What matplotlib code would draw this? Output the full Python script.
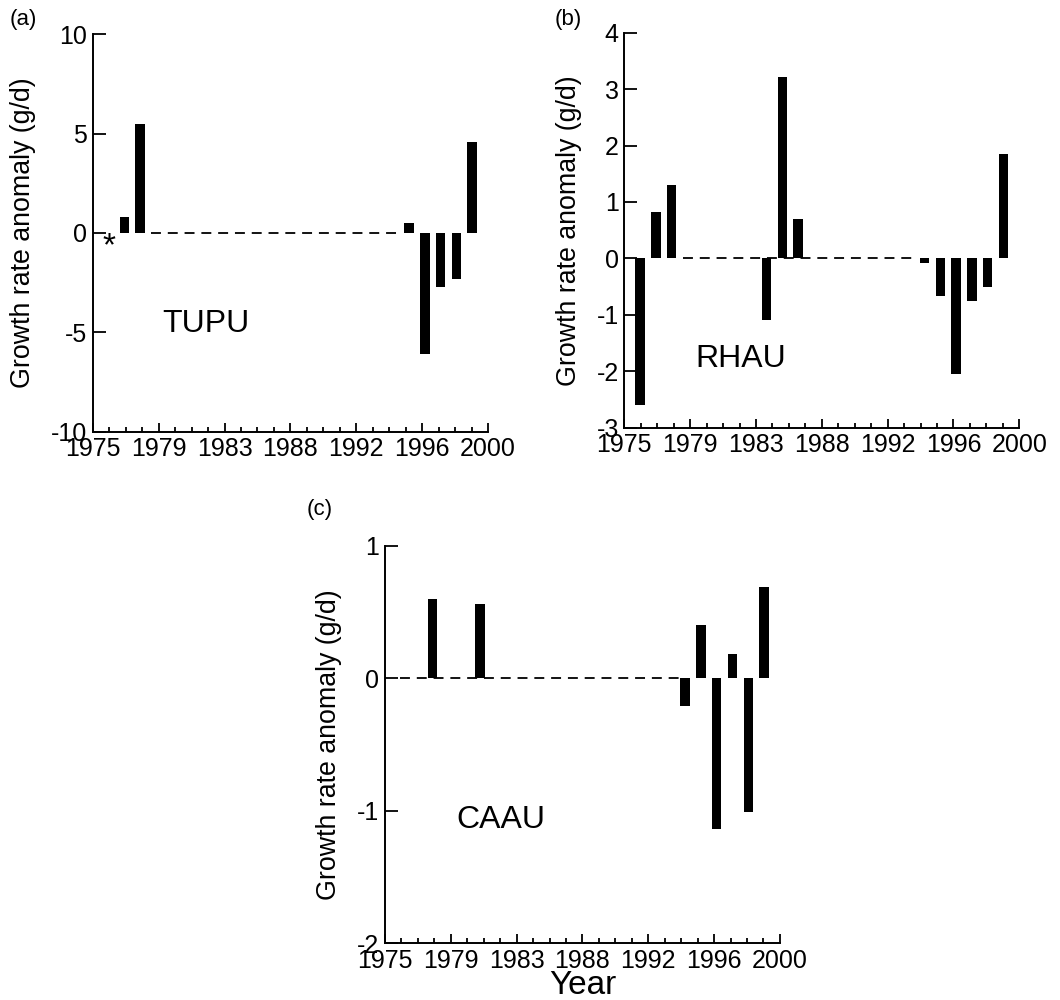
import numpy as np
import matplotlib
matplotlib.use("Agg")
import matplotlib.pyplot as plt

plt.rcParams['font.family'] = ['Liberation Sans', 'DejaVu Sans']

# growth rate anomalies (g/d) by year
tupu_years = [1977, 1978, 1995, 1996, 1997, 1998, 1999]
tupu_vals = [0.8, 5.5, 0.5, -6.1, -2.7, -2.3, 4.6]

rhau_years = [1976, 1977, 1978, 1984, 1985, 1986, 1994, 1995, 1996, 1997, 1998, 1999]
rhau_vals = [-2.6, 0.83, 1.3, -1.1, 3.22, 0.7, -0.09, -0.66, -2.05, -0.75, -0.51, 1.85]

caau_years = [1978, 1981, 1994, 1995, 1996, 1997, 1998, 1999]
caau_vals = [0.6, 0.56, -0.21, 0.4, -1.14, 0.18, -1.01, 0.69]

# axis 1975-2000 split into 24 tick intervals, labelled every 4th
x_major = np.linspace(1975, 2000, 7)
x_minor = np.linspace(1975, 2000, 25)
x_labels = ['1975', '1979', '1983', '1988', '1992', '1996', '2000']

tupu_yticks = [-10, -5, 0, 5, 10]
rhau_yticks = [-3, -2, -1, 0, 1, 2, 3, 4]
caau_yticks = [-2, -1, 0, 1]


def draw_panel(ax, years, vals, yticks, name, name_xy, tag, tag_xy, dash, ylab_x):
    ax.plot(dash, [0, 0], color='black', lw=1.3, ls=(0, (5.5, 3.8)), zorder=1)
    ax.bar(years, vals, width=0.6, color='black', zorder=2)
    ax.set_xlim(1975, 2000)
    ax.set_ylim(yticks[0], yticks[-1])
    ax.spines['top'].set_visible(False)
    ax.spines['right'].set_visible(False)
    for s in ('left', 'bottom'):
        ax.spines[s].set_linewidth(1.4)
    ax.set_xticks(x_major)
    ax.set_xticklabels(x_labels)
    ax.set_xticks(x_minor, minor=True)
    ax.set_yticks(yticks)
    ax.set_yticklabels([str(t) for t in yticks])
    ax.tick_params(axis='x', which='major', direction='in', length=6.5, width=1.3,
                   labelsize=18, pad=4)
    ax.tick_params(axis='x', which='minor', direction='in', length=3.6, width=1.3)
    ax.tick_params(axis='y', which='major', direction='in', length=9.5, width=1.3,
                   labelsize=18, pad=4)
    ax.set_ylabel('Growth rate anomaly (g/d)', fontsize=19.3, va='center')
    ax.yaxis.set_label_coords(ylab_x, 0.5)
    ax.text(name_xy[0], name_xy[1], name, transform=ax.transAxes, fontsize=23,
            ha='center', va='center')
    fig.text(tag_xy[0], tag_xy[1], tag, fontsize=16, ha='center', va='center')


fig = plt.figure(figsize=(10.6, 10), dpi=100)
ax_a = fig.add_axes([0.0875, 0.5683, 0.3729, 0.3974])
ax_b = fig.add_axes([0.589, 0.5723, 0.3726, 0.395])
ax_c = fig.add_axes([0.3632, 0.0567, 0.3726, 0.3976])

draw_panel(ax_a, tupu_years, tupu_vals, tupu_yticks, 'TUPU', (0.285, 0.27),
           '(a)', (0.022, 0.98), [1978.7, 1994.3], -0.176)
ax_a.text(1976, 0.1, '*', fontsize=24, ha='center', va='top')

draw_panel(ax_b, rhau_years, rhau_vals, rhau_yticks, 'RHAU', (0.296, 0.175),
           '(b)', (0.536, 0.98), [1978.7, 1993.5], -0.14)

draw_panel(ax_c, caau_years, caau_vals, caau_yticks, 'CAAU', (0.294, 0.31),
           '(c)', (0.302, 0.49), [1975.95, 1993.7], -0.142)
ax_c.set_xlabel('Year', fontsize=24, labelpad=-2)

fig.savefig('out.png', dpi=100)
